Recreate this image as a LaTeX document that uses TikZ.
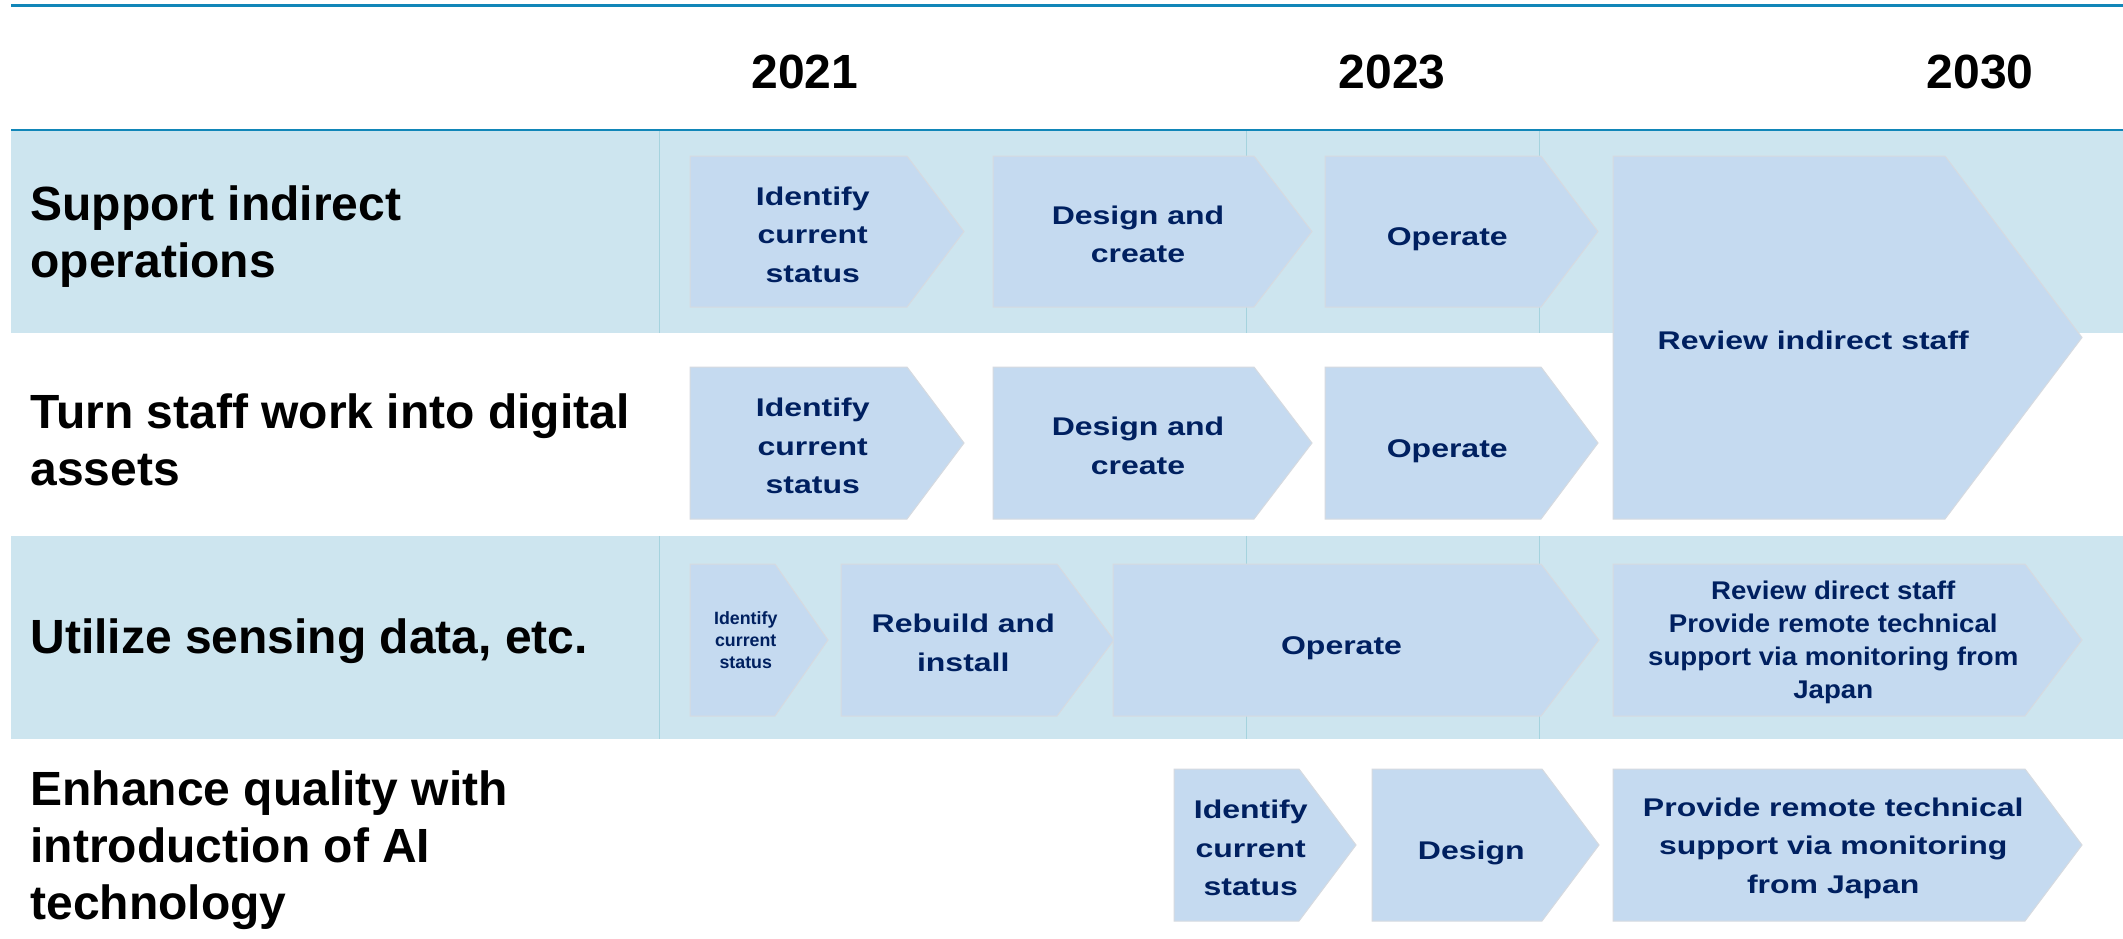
\documentclass[tikz,border=0pt]{standalone}
\usepackage{fontspec}
\setmainfont{Liberation Sans}
\newfontfamily\stagefont{Liberation Sans}[FakeStretch=1.25]
\newfontfamily\notefont{Liberation Sans}[FakeStretch=1.08]

\definecolor{bandfill}{HTML}{CDE5EF}
\definecolor{stagefill}{HTML}{C5DAF0}
\definecolor{stageedge}{HTML}{D6DAE0}
\definecolor{rulecol}{HTML}{1186B8}
\definecolor{dividercol}{HTML}{A5D3DE}
\definecolor{ink}{HTML}{002060}

\tikzset{
  band/.style={fill=bandfill, draw=none},
  toprule/.style={draw=rulecol, line width=1.4pt},
  divider/.style={draw=dividercol, line width=0.5pt},
  stageshape/.style={fill=stagefill, draw=stageedge, line width=0.5pt},
  stagetext/.style={text=ink, align=center, inner sep=0pt, yshift=-1.5pt,
    font=\stagefont\bfseries\fontsize{12.8}{19.25}\selectfont},
  stageline/.style={stagetext, yshift=-2.5pt},
  notetext/.style={text=ink, align=center, inner sep=0pt, yshift=-1pt,
    font=\notefont\bfseries\fontsize{12.8}{16.5}\selectfont},
  tinytext/.style={text=ink, align=center, inner sep=0pt,
    font=\bfseries\fontsize{8.9}{11}\selectfont},
  rowlabel/.style={anchor=west, align=left, inner sep=0pt, text=black,
    font=\bfseries\fontsize{24}{28.5}\selectfont},
  yearlabel/.style={inner sep=0pt, text=black,
    font=\bfseries\fontsize{24}{26}\selectfont},
}

% pentagon arrow: name, left, notch, tip, top, bottom, text style, text
\newcommand\stage[8]{%
  \path[stageshape] (#2,#5) -- (#3,#5) -- (#4,{(#5+#6)/2}) -- (#3,#6) -- (#2,#6) -- cycle;
  \node[#7] (#1) at ({(#2+(#3+#4)/2)/2},{(#5+#6)/2}) {#8};
}

\begin{document}
\begin{tikzpicture}[x=0.5pt, y=-0.5pt]
  \useasboundingbox (0,0) rectangle (2123,938);
  \fill[white] (0,0) rectangle (2123,938);

  % shaded rows
  \path[band] (11,131) rectangle (2123,333);
  \path[band] (11,536) rectangle (2123,739);

  % column dividers inside the shaded rows
  \foreach \xd in {659,1246,1539} {
    \draw[divider] (\xd,131) -- (\xd,333);
    \draw[divider] (\xd,536) -- (\xd,739);
  }

  % header rules
  \draw[toprule] (11,5.5) -- (2123,5.5);
  \draw[toprule] (11,130) -- (2123,130);

  % years
  \node[yearlabel] (y2021) at (805,72) {2021};
  \node[yearlabel] (y2023) at (1392,72) {2023};
  \node[yearlabel] (y2030) at (1980,72) {2030};

  % row titles
  \node[rowlabel] (t1) at (30,237) {Support indirect\\operations};
  \node[rowlabel] (t2) at (30,440) {Turn staff work into digital\\assets};
  \node[rowlabel] (t3) at (30,641) {Utilize sensing data, etc.};
  \node[rowlabel] (t4) at (30,850) {Enhance quality with\\introduction of AI\\technology};

  % row 1
  \stage{s1a}{690}{907}{964}{156}{307}{stagetext}{Identify\\current\\status}
  \stage{s1b}{993}{1254}{1312}{156}{307}{stagetext}{Design and\\create}
  \stage{s1c}{1325}{1541}{1598}{156}{307}{stageline}{Operate}
  % rows 1-2 shared
  \stage{s12}{1613}{1945}{2082}{156}{519}{stagetext}{Review indirect staff}
  % row 2
  \stage{s2a}{690}{907}{964}{367}{519}{stagetext}{Identify\\current\\status}
  \stage{s2b}{993}{1254}{1312}{367}{519}{stagetext}{Design and\\create}
  \stage{s2c}{1325}{1541}{1598}{367}{519}{stageline}{Operate}
  % row 3
  \stage{s3a}{690}{775}{828}{564}{716}{tinytext}{Identify\\current\\status}
  \stage{s3b}{841}{1057}{1114}{564}{716}{stagetext}{Rebuild and\\install}
  \stage{s3c}{1113}{1541}{1599}{564}{716}{stageline}{Operate}
  \stage{s3d}{1613}{2025}{2082}{564}{716}{notetext}{Review direct staff\\Provide remote technical\\support via monitoring from\\Japan}
  % row 4
  \stage{s4a}{1174}{1299}{1356}{769}{921}{stagetext}{Identify\\current\\status}
  \stage{s4b}{1372}{1542}{1599}{769}{921}{stageline}{Design}
  \stage{s4c}{1613}{2025}{2082}{769}{921}{stagetext}{Provide remote technical\\support via monitoring\\from Japan}
\end{tikzpicture}
\end{document}
